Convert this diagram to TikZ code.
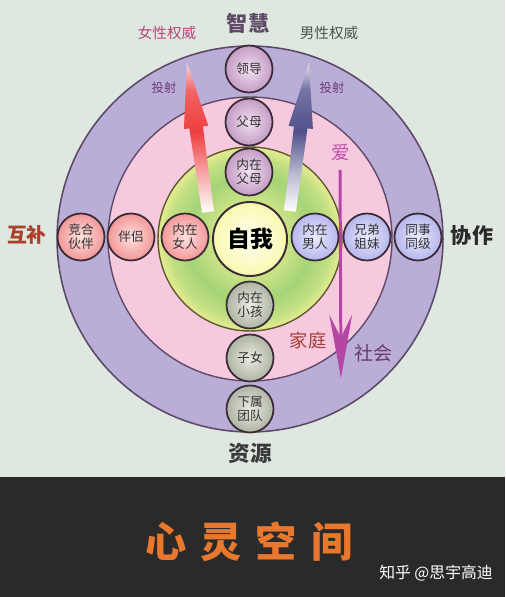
\documentclass[tikz,border=0pt]{standalone}
\usepackage{fontspec}
\setmainfont{Noto Sans CJK SC}
\usetikzlibrary{arrows.meta,calc}

\definecolor{bgmint}{HTML}{DEE8E1}
\definecolor{bandblack}{HTML}{2B2A2B}
\definecolor{ringlav}{HTML}{BAAED8}
\definecolor{ringpink}{HTML}{F7C9DF}
\definecolor{ringedge}{HTML}{5E4A66}
\definecolor{zoneY}{HTML}{E6EC92}
\definecolor{zoneG}{HTML}{A4D476}
\definecolor{zoneedge}{HTML}{5F5A2E}
\definecolor{ballrim}{HTML}{3A2C36}
\definecolor{inktext}{HTML}{333333}
\definecolor{femred}{HTML}{EE3E3E}
\definecolor{malblue}{HTML}{50508C}
\definecolor{lovepink}{HTML}{B447A4}
\definecolor{titleorange}{HTML}{E8782E}
\definecolor{femink}{HTML}{B8457A}
\definecolor{malink}{HTML}{4A564A}
\definecolor{projink}{HTML}{6A3A78}
\definecolor{loveink}{HTML}{C050A8}
\definecolor{mutualink}{HTML}{A8402A}
\definecolor{coopink}{HTML}{2A2A2A}
\definecolor{familyink}{HTML}{A0403A}
\definecolor{societyink}{HTML}{6A3A6A}
\definecolor{resourceink}{HTML}{3A3A3A}
\definecolor{greyrim}{HTML}{AEB4A4}
\definecolor{greymid}{HTML}{E9ECE2}

\pgfdeclareverticalshading{femshade}{100bp}{color(0bp)=(white); color(25bp)=(white); color(38bp)=(femred!45); color(52bp)=(femred); color(66bp)=(femred!80); color(75bp)=(femred!20); color(100bp)=(femred!20)}
\pgfdeclareverticalshading{malshade}{100bp}{color(0bp)=(white); color(25bp)=(white); color(38bp)=(malblue!40); color(52bp)=(malblue); color(66bp)=(malblue!80); color(75bp)=(malblue!15); color(100bp)=(malblue!15)}
\pgfdeclareradialshading{zoneshade}{\pgfpoint{0bp}{0bp}}{color(0bp)=(zoneY); color(11bp)=(zoneY!55!zoneG); color(17bp)=(zoneG); color(22bp)=(zoneG!55!zoneY); color(25bp)=(zoneY); color(50bp)=(zoneY)}

\begin{document}
\begin{tikzpicture}[x=0.02cm,y=-0.02cm,
    smallball/.style={circle,draw=ballrim,line width=1pt,minimum size=0.94cm,
      inner sep=0pt,align=center,text=inktext,font=\fontsize{7.2}{8}\selectfont},
    purpleball/.style={smallball,inner color=white!70!violet!40,outer color=violet!20!magenta!30!gray!60},
    redball/.style={smallball,inner color=red!12,outer color=red!40!white!90!gray},
    blueball/.style={smallball,inner color=blue!8,outer color=blue!25!white!85!gray},
    greyball/.style={smallball,inner color=greymid,outer color=greyrim},
    selfnode/.style={circle,draw=ballrim,line width=1.1pt,minimum size=1.48cm,
      inner sep=0pt,inner color=yellow!5,outer color=yellow!30!white!95!gray,
      font=\bfseries\fontsize{13}{13}\selectfont},
    ringtext/.style={inner sep=0pt}]

  \useasboundingbox (0,0) rectangle (505,597);
  \fill[bgmint] (0,0) rectangle (505,477);
  \fill[bandblack] (0,477) rectangle (505,597);

  % rings
  \filldraw[fill=ringlav,draw=ringedge,line width=0.9pt]
    (250,239) circle[radius=3.86cm];
  \filldraw[fill=ringpink,draw=ringedge,line width=0.8pt]
    (250,239) circle[radius=2.84cm];
  \shade[shading=zoneshade] (250,239) circle[radius=1.84cm];
  \draw[zoneedge,line width=0.8pt] (250,239) circle[radius=1.84cm];

  % projection arrows
  \coordinate (femtail) at (208,212);
  \coordinate (femtip) at (187,63);
  \coordinate (fembase) at ($(femtip)!37pt!(femtail)$);
  \shade[shading=femshade]
    ($(femtail)!3.4pt!90:(femtip)$) -- ($(fembase)!3.9pt!90:(femtip)$)
    -- ($(fembase)!7pt!90:(femtip)$) -- (femtip)
    -- ($(fembase)!7pt!-90:(femtip)$) -- ($(fembase)!3.9pt!-90:(femtip)$)
    -- ($(femtail)!3.4pt!-90:(femtip)$) -- cycle;
  \coordinate (maltail) at (290,211);
  \coordinate (maltip) at (309,63);
  \coordinate (malbase) at ($(maltip)!37pt!(maltail)$);
  \shade[shading=malshade]
    ($(maltail)!3.4pt!90:(maltip)$) -- ($(malbase)!3.9pt!90:(maltip)$)
    -- ($(malbase)!7pt!90:(maltip)$) -- (maltip)
    -- ($(malbase)!7pt!-90:(maltip)$) -- ($(malbase)!3.9pt!-90:(maltip)$)
    -- ($(maltail)!3.4pt!-90:(maltip)$) -- cycle;

  % love arrow
  \coordinate (lovetop) at (340,170);
  \coordinate (lovetip) at (341,378);
  \draw[lovepink,line width=1.7pt,
    -{Stealth[length=36pt,width=13pt,inset=13pt]}] (lovetop) -- (lovetip);

  % persons
  \node[selfnode] (self) at (250,239) {自我};
  \node[purpleball] (lead) at (249,69) {领导};
  \node[purpleball] (parent) at (249,122) {父母};
  \node[purpleball] (innerparent) at (249,172) {内在\\父母};
  \node[redball] (innerwoman) at (185,237) {内在\\女人};
  \node[redball] (partner) at (131,237) {伴侣};
  \node[redball] (rival) at (81,237) {竞合\\伙伴};
  \node[blueball] (innerman) at (315,237) {内在\\男人};
  \node[blueball] (sibling) at (367,237) {兄弟\\姐妹};
  \node[blueball] (colleague) at (418,237) {同事\\同级};
  \node[greyball] (innerchild) at (250,305) {内在\\小孩};
  \node[greyball] (child) at (250,358) {子女};
  \node[greyball] (team) at (250,409) {下属\\团队};

  % words
  \node[ringtext,text=ringedge,font=\bfseries\fontsize{12}{12}\selectfont] (wisdom) at (248,23) {智慧};
  \node[ringtext,text=femink,font=\fontsize{8.3}{8.3}\selectfont] (femauth) at (167,33) {女性权威};
  \node[ringtext,text=malink,font=\fontsize{8.3}{8.3}\selectfont] (malauth) at (329,33) {男性权威};
  \node[ringtext,text=projink,font=\fontsize{7}{7}\selectfont] (femproj) at (164,88) {投射};
  \node[ringtext,text=projink,font=\fontsize{7}{7}\selectfont] (malproj) at (332,88) {投射};
  \node[ringtext,text=loveink,font=\fontsize{10.5}{10.5}\selectfont] (love) at (341,153) {爱};
  \node[ringtext,text=mutualink,font=\bfseries\fontsize{11.3}{11.3}\selectfont] (mutual) at (27,235) {互补};
  \node[ringtext,text=coopink,font=\bfseries\fontsize{12}{12}\selectfont] (coop) at (472,235) {协作};
  \node[ringtext,text=familyink,font=\fontsize{10.4}{10.4}\selectfont] (family) at (308,340) {家庭};
  \node[ringtext,text=societyink,font=\fontsize{10.8}{10.8}\selectfont] (society) at (373,353) {社会};
  \node[ringtext,text=resourceink,font=\bfseries\fontsize{12.3}{12.3}\selectfont] (resource) at (250,453) {资源};

  % band
  \node[ringtext,text=titleorange,font=\bfseries\fontsize{23.5}{24}\selectfont]
    (title) at (249,542) {心\hspace{8pt}灵\hspace{8pt}空\hspace{8pt}间};
  \node[ringtext,text=white,font=\fontsize{9}{9}\selectfont]
    (mark) at (436,573) {知乎 @思宇高迪};
\end{tikzpicture}
\end{document}
